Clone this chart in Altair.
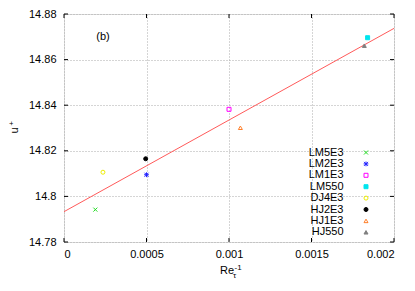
import altair as alt
import pandas as pd

series = ["LM5E3", "LM2E3", "LM1E3", "LM550", "DJ4E3", "HJ2E3", "HJ1E3", "HJ550"]
inv_re = [0.00019, 0.0005, 0.001, 0.00184, 0.000236, 0.000495, 0.001069, 0.00182]
uplus = [14.7942, 14.8095, 14.8382, 14.8696, 14.8106, 14.8165, 14.8301, 14.8661]

fit_x = [0.0, 0.002]
fit_y = [14.7933, 14.8737]

x_ticks = [0, 0.0005, 0.001, 0.0015, 0.002]
y_ticks = [14.78, 14.8, 14.82, 14.84, 14.86, 14.88]

stroke_colors = ["#22dd22", "#2222ff", "#ff00ff", "#00e5ee", "#eeee00", "#000000", "#ff7f2a", "#808080"]
fill_colors = ["transparent", "transparent", "transparent", "#00e5ee", "transparent", "#000000", "transparent", "#808080"]
shapes = [
    "M-1,-1L1,1M-1,1L1,-1",
    "M-1,-1L1,1M-1,1L1,-1M0,-1.2L0,1.2M-1.2,0L1.2,0",
    "square", "square", "circle", "circle", "triangle-up", "triangle-up",
]

FONT = "Liberation Sans"
W, H = 330, 228

pts = pd.DataFrame({"series": series, "x": inv_re, "y": uplus})
fit = pd.DataFrame({"x": fit_x, "y": fit_y})
xt = pd.DataFrame({"v": x_ticks})
yt = pd.DataFrame({"v": y_ticks})

xscale = alt.Scale(domain=[0, 0.002], nice=False, zero=False)
yscale = alt.Scale(domain=[14.78, 14.88], nice=False, zero=False)

xaxis = alt.Axis(values=x_ticks, format="~g", title=None, grid=True, ticks=False,
                 labelPadding=6, gridDash=[1, 2], gridColor="#aaaaaa", domain=False,
                 labelFont=FONT, labelFontSize=11, labelColor="black")
yaxis = alt.Axis(values=y_ticks, format="~g", title=None, grid=True, ticks=False,
                 labelPadding=8, gridDash=[1, 2], gridColor="#aaaaaa", domain=False,
                 labelFont=FONT, labelFontSize=11, labelColor="black")

base_grid = alt.Chart(fit).mark_line(opacity=0).encode(
    x=alt.X("x:Q", scale=xscale, axis=xaxis),
    y=alt.Y("y:Q", scale=yscale, axis=yaxis),
)

fit_line = alt.Chart(fit).mark_line(color="#ff5a5a", strokeWidth=1).encode(
    x=alt.X("x:Q", scale=xscale), y=alt.Y("y:Q", scale=yscale)
)

points = alt.Chart(pts).mark_point(size=16, strokeWidth=1, opacity=1).encode(
    x=alt.X("x:Q", scale=xscale),
    y=alt.Y("y:Q", scale=yscale),
    shape=alt.Shape("series:N", scale=alt.Scale(domain=series, range=shapes),
                    legend=alt.Legend(title=None, orient="none", legendX=296.5, legendY=133,
                                      labelAlign="right", labelOffset={"expr": "-28"}, labelFont=FONT,
                                      labelFontSize=11, labelColor="black",
                                      rowPadding={"expr": "-0.6"},
                                      symbolSize=16, symbolStrokeWidth=1, padding=0)),
    stroke=alt.Stroke("series:N", scale=alt.Scale(domain=series, range=stroke_colors)),
    fill=alt.Fill("series:N", scale=alt.Scale(domain=series, range=fill_colors)),
)

tick_bottom = alt.Chart(xt).mark_rule(color="black").encode(
    x=alt.X("v:Q", scale=xscale), y=alt.value(H), y2=alt.value(H - 4))
tick_top = alt.Chart(xt).mark_rule(color="black").encode(
    x=alt.X("v:Q", scale=xscale), y=alt.value(0), y2=alt.value(4))
tick_left = alt.Chart(yt).mark_rule(color="black").encode(
    y=alt.Y("v:Q", scale=yscale), x=alt.value(0), x2=alt.value(4))
tick_right = alt.Chart(yt).mark_rule(color="black").encode(
    y=alt.Y("v:Q", scale=yscale), x=alt.value(W), x2=alt.value(W - 4))

panel = alt.Chart(pd.DataFrame({"t": ["(b)"]})).mark_text(
    font=FONT, fontSize=11, align="center", baseline="middle").encode(
    text="t:N", x=alt.value(39), y=alt.value(23))

ytitle_u = alt.Chart(pd.DataFrame({"t": ["u"]})).mark_text(
    font=FONT, fontSize=11, align="center", baseline="middle", angle=270).encode(
    text="t:N", x=alt.value(-49.5), y=alt.value(116.5))
ytitle_plus = alt.Chart(pd.DataFrame({"t": ["+"]})).mark_text(
    font=FONT, fontSize=8, align="center", baseline="middle", angle=270).encode(
    text="t:N", x=alt.value(-52), y=alt.value(109.5))

xt_re = alt.Chart(pd.DataFrame({"t": ["Re"]})).mark_text(
    font=FONT, fontSize=11, align="left", baseline="alphabetic").encode(
    text="t:N", x=alt.value(156), y=alt.value(260))
xt_tau = alt.Chart(pd.DataFrame({"t": ["τ"]})).mark_text(
    font=FONT, fontSize=8, align="left", baseline="alphabetic").encode(
    text="t:N", x=alt.value(169), y=alt.value(263.5))
xt_sup = alt.Chart(pd.DataFrame({"t": ["-1"]})).mark_text(
    font=FONT, fontSize=8, align="left", baseline="alphabetic").encode(
    text="t:N", x=alt.value(170.5), y=alt.value(255.5))

chart = alt.layer(
    base_grid, fit_line, points, tick_bottom, tick_top, tick_left, tick_right,
    panel, ytitle_u, ytitle_plus, xt_re, xt_tau, xt_sup,
).properties(
    width=W, height=H,
    autosize=alt.AutoSizeParams(type="none"),
    padding={"left": 56, "top": 6, "right": 13, "bottom": 41},
).configure_view(stroke="black", strokeWidth=1.2).configure(background="white")

chart.save("out.html", embed_options={"renderer": "svg", "actions": False})
